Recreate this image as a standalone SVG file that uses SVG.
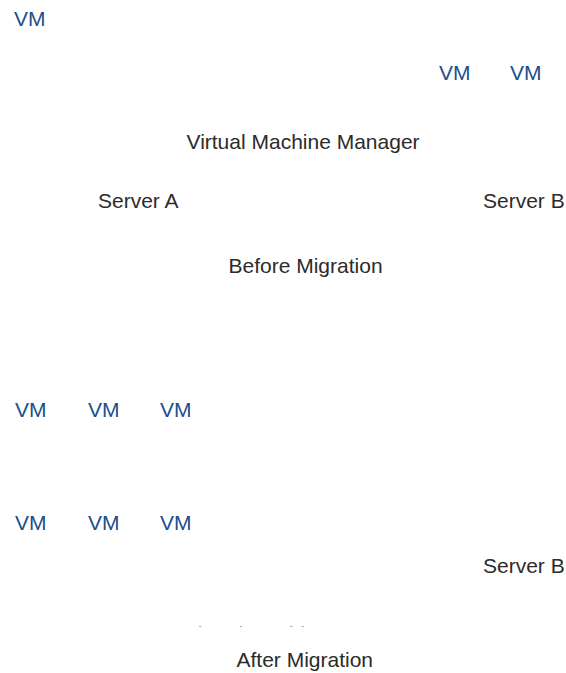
<svg xmlns="http://www.w3.org/2000/svg" width="566" height="673" viewBox="0 0 566 673">
  <style>
    text { font-family: "Liberation Sans", Arial, Helvetica, sans-serif; font-size: 21px; }
    .vm { fill: #1b4f8b; }
    .lbl { fill: #2b2b2b; }
  </style>
  <defs>
    <clipPath id="strip">
      <rect x="0" y="625.5" width="566" height="1.2"/>
    </clipPath>
  </defs>
  <rect width="566" height="673" fill="#ffffff"/>
  <g id="connectors"/>
  <g id="before">
    <g id="vm-a1"><text class="vm" x="14" y="25.5">VM</text></g>
    <g id="vm-b1"><text class="vm" x="439" y="80">VM</text></g>
    <g id="vm-b2"><text class="vm" x="510" y="80">VM</text></g>
    <g id="vmm-before"><text class="lbl" x="186.5" y="149">Virtual Machine Manager</text></g>
    <g id="server-a-before"><text class="lbl" x="98" y="207.5">Server A</text></g>
    <g id="server-b-before"><text class="lbl" x="483" y="207.5">Server B</text></g>
    <g id="title-before"><text class="lbl" x="228.5" y="272.5">Before Migration</text></g>
  </g>
  <g id="after">
    <g id="vm-r1a"><text class="vm" x="15" y="417">VM</text></g>
    <g id="vm-r1b"><text class="vm" x="88" y="417">VM</text></g>
    <g id="vm-r1c"><text class="vm" x="160" y="417">VM</text></g>
    <g id="vm-r2a"><text class="vm" x="15" y="530">VM</text></g>
    <g id="vm-r2b"><text class="vm" x="88" y="530">VM</text></g>
    <g id="vm-r2c"><text class="vm" x="160" y="530">VM</text></g>
    <g id="server-b-after"><text class="lbl" x="483" y="572.5">Server B</text></g>
    <g id="vmm-after" clip-path="url(#strip)" opacity="0.6"><text class="lbl" x="184" y="641">Virtual Machine Manager</text></g>
    <g id="title-after"><text class="lbl" x="236.5" y="667">After Migration</text></g>
  </g>
</svg>
